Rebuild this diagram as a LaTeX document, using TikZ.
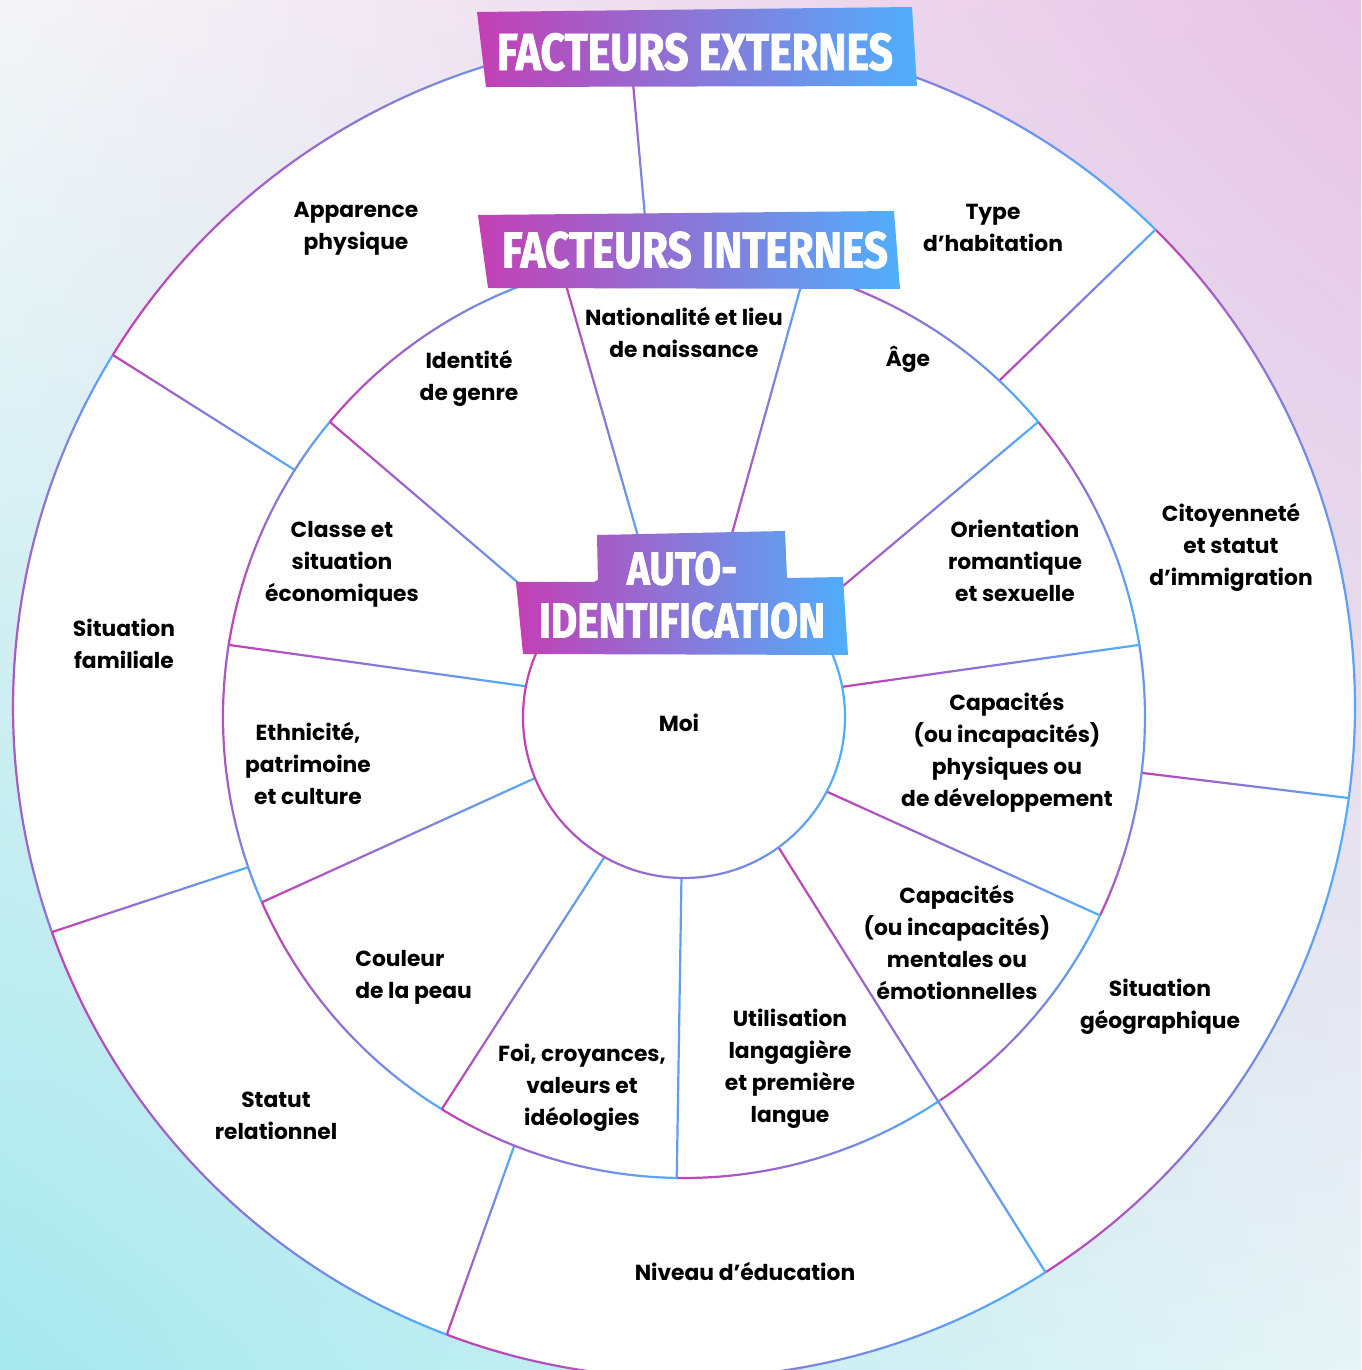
\documentclass[tikz,border=0pt]{standalone}
\usepackage{fontspec}
\usepackage{graphicx}
\setmainfont{Poppins}
\newfontfamily\bannerfont[BoldFeatures={FakeBold=1.6}]{Fira Sans}
\usetikzlibrary{calc, shadings}

\definecolor{wheelMag}{HTML}{C43FB4}
\definecolor{wheelBlue}{HTML}{4FAFFC}
\definecolor{bgTL}{HTML}{F5F5F7}
\definecolor{bgTR}{HTML}{E8C4E6}
\definecolor{bgBL}{HTML}{A6E9EE}
\definecolor{bgBR}{HTML}{E6F4F6}

\tikzset{
  factor/.style={font=\bfseries\fontsize{10.9}{16}\selectfont, align=center, inner sep=0pt},
  banner/.style={left color=wheelMag, right color=wheelBlue},
  bannertext/.style={text=white, inner sep=0pt, font=\bannerfont\bfseries},
  rim/.style={left color=wheelMag, right color=wheelBlue}
}

% half thickness of the coloured rims (picture units)
\newcommand{\rimw}{1.1}
% arc of a ring: centre, radius, start angle, end angle
\newcommand{\rimarc}[4]{%
  \shade[rim] ($(#1)+(#3:{#2+\rimw})$) arc[start angle=#3, end angle=#4, radius={#2+\rimw}]
    -- ($(#1)+(#4:{#2-\rimw})$) arc[start angle=#4, end angle=#3, radius={#2-\rimw}] -- cycle;}
% straight divider between two named coordinates
\newcommand{\rimspoke}[2]{%
  \shade[rim] ($(#1)!0.55pt!90:(#2)$) -- ($(#2)!0.55pt!-90:(#1)$)
    -- ($(#2)!0.55pt!90:(#1)$) -- ($(#1)!0.55pt!-90:(#2)$) -- cycle;}

\begin{document}
\begin{tikzpicture}[x=0.5pt, y=0.5pt]
  % page and background
  \useasboundingbox (-684,-653) rectangle (677,717);
  \shade[upper left=bgTL, upper right=bgTR, lower left=bgBL, lower right=bgBR]
    (-684,-653) rectangle (677,717);

  \coordinate (O) at (0,0);
  \coordinate (Oext) at (0,10);
  \fill[white] (Oext) circle (671);

  % outer ring
  \foreach \a/\b in {94.7/45.36, 45.36/-7.8, -7.8/-57.4, -57.4/-110.7,
                     -110.7/-160.4, -160.4/-211.65, -211.65/-265.3}
    {\rimarc{Oext}{671}{\a}{\b}}
  \foreach \a/\b [count=\i] in {94.4/94.7, 46.85/45.36, -6.96/-7.8,
                               -111.6/-110.7, -160.98/-160.4, 147.6/148.35}
  {
    \coordinate (ext-\i-in) at (\a:461);
    \coordinate (ext-\i-out) at ($(Oext)+(\b:671)$);
    \rimspoke{ext-\i-in}{ext-\i-out}
  }

  % middle ring
  \foreach \a/\b in {105.3/74.8, 74.8/39.8, 39.8/9, 9/-25.5, -25.5/-56.2,
                     -56.2/-90.9, -90.9/-121.7, -121.7/-156.3, -156.3/-189,
                     -189/-219.8, -219.8/-254.7}
    {\rimarc{O}{461}{\a}{\b}}
  \foreach \a/\b [count=\i] in {104/105.3, 75.5/74.8, 39.3/39.8, 10.8/9,
                               -27.6/-25.5, -119.6/-121.7, -157.7/-156.3,
                               169/171, 141.5/140.2}
  {
    \coordinate (int-\i-in) at (\a:161);
    \coordinate (int-\i-out) at (\b:461);
    \rimspoke{int-\i-in}{int-\i-out}
  }
  \coordinate (langue-in) at (-90.9:161);
  \coordinate (langue-out) at (-90.9:461);
  \draw[wheelBlue!85!wheelMag, line width=1.1pt] (langue-in) -- (langue-out);
  \coordinate (mental-in) at (-54.05:161);
  \coordinate (mental-out) at ($(Oext)+(-57.4:671)$);
  \rimspoke{mental-in}{mental-out}

  % centre
  \rimarc{O}{161}{0}{360}

  % banners
  \shade[banner] (-207,705) -- (228,710) -- (233,631) -- (-198,630) -- cycle;
  \node[bannertext] (externes) at (11,665)
    {\resizebox{198pt}{18.5pt}{FACTEURS EXTERNES}};
  \shade[banner] (-206,502) -- (210,506) -- (216,428) -- (-196,429) -- cycle;
  \node[bannertext] (internes) at (11,467)
    {\resizebox{193pt}{18pt}{FACTEURS INTERNES}};
  \shade[banner] (-87,182) -- (101,186) -- (103,139) -- (159,140) -- (164,62)
    -- (-161,63) -- (-168,135) -- (-86,135) -- cycle;
  \node[bannertext] (auto) at (-2,148.5) {\resizebox{55pt}{16.5pt}{AUTO-}};
  \node[bannertext] (identification) at (-2,96.5)
    {\resizebox{143pt}{17.5pt}{IDENTIFICATION}};

  % external factors
  \node[factor] (apparence) at (-328,488) {Apparence\\physique};
  \node[factor] (habitation) at (309,489) {Type\\d’habitation};
  \node[factor] (citoyennete) at (547,170) {Citoyenneté\\et statut\\d’immigration};
  \node[factor] (geographie) at (476,-290) {Situation\\géographique};
  \node[factor] (education) at (61,-554) {Niveau d’éducation};
  \node[factor] (relation) at (-408,-399) {Statut\\relationnel};
  \node[factor] (famille) at (-560,73) {Situation\\familiale};

  % internal factors
  \node[factor] (nationalite) at (0,384) {Nationalité et lieu\\de naissance};
  \node[factor] (age) at (224,358) {Âge};
  \node[factor] (orientation) at (331,156) {Orientation\\romantique\\et sexuelle};
  \node[factor] (physique) at (323,-35) {Capacités\\(ou incapacités)\\physiques ou\\de développement};
  \node[factor] (mentale) at (273,-225) {Capacités\\(ou incapacités)\\mentales ou\\émotionnelles};
  \node[factor] (langue) at (106,-352) {Utilisation\\langagière\\et première\\langue};
  \node[factor] (foi) at (-102,-371) {Foi, croyances,\\valeurs et\\idéologies};
  \node[factor, align=left, anchor=west] (peau) at (-329,-260) {Couleur\\de la peau};
  \node[factor] (ethnicite) at (-376,-46) {Ethnicité,\\patrimoine\\et culture};
  \node[factor] (classe) at (-342,153) {Classe et\\situation\\économiques};
  \node[factor] (genre) at (-215,339) {Identité\\de genre};
  \node[factor] (moi) at (-5,-6) {Moi};
\end{tikzpicture}
\end{document}
